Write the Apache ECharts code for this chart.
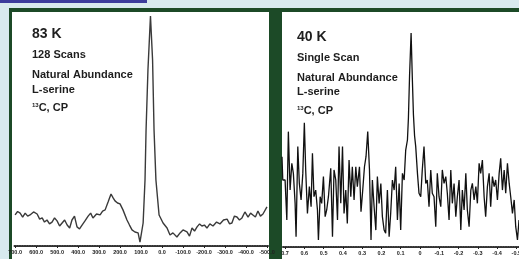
<!DOCTYPE html>
<html>
<head>
<meta charset="utf-8">
<script src="https://cdn.jsdelivr.net/npm/echarts@6/dist/echarts.min.js"></script>
<style>
  html, body { margin: 0; padding: 0; background: #d8eaee; }
  #chart { width: 519px; height: 259px; }
</style>
</head>
<body>
<div id="chart"></div>
<script>
// 83 K, 128 scans (left panel) - shift axis units, intensity normalised to peak = 100
const leftShift = [700, 688, 676, 664, 652, 640, 629, 612, 595, 583, 571, 560, 548, 536, 524, 512, 500, 488, 476, 464,
  452, 440, 429, 417, 405, 393, 381, 367, 352, 340, 329, 312, 295, 283, 271, 257, 243, 233, 224, 212,
  200, 186, 167, 155, 143, 129, 114, 105, 90, 81, 76, 67, 55, 45, 38, 29, 14, -5, -24, -38,
  -52, -71, -86, -100, -119, -131, -143, -155, -167, -179, -190, -202, -214, -228, -243, -260, -276, -293, -310, -322,
  -333, -345, -357, -369, -381, -395, -410, -422, -433, -445, -457, -469, -481, -500]
const leftIntensity = [13.5, 15.0, 14.3, 12.6, 14.3, 13.0, 13.5, 14.8, 13.9, 11.7, 12.2, 10.4, 11.3, 9.6, 10.4, 12.2, 10.9, 8.7, 10.0, 11.3,
  9.1, 7.8, 11.3, 13.0, 8.3, 7.4, 9.1, 10.9, 13.0, 14.3, 12.2, 13.9, 13.5, 15.2, 15.7, 19.1, 22.6, 20.9, 19.6, 18.7,
  18.3, 15.7, 11.3, 9.1, 7.0, 6.1, 5.7, 1.7, 10.0, 28.7, 50.4, 76.5, 100, 80.9, 50.4, 28.7, 13.5, 10.0, 7.8, 4.8,
  5.7, 3.9, 5.7, 7.0, 6.1, 4.3, 7.8, 6.5, 8.3, 9.6, 8.7, 9.1, 7.8, 9.6, 8.7, 10.4, 9.6, 11.3, 11.7, 9.6,
  10.0, 13.0, 12.6, 11.3, 12.2, 14.8, 12.6, 14.3, 13.5, 12.6, 15.2, 13.0, 13.9, 17.0]
const leftTicks = [700, 600, 500, 400, 300, 200, 100, 0, -100, -200, -300, -400, -500]

// 40 K, single scan (right panel)
const rightShift = [0.716, 0.712, 0.700, 0.691, 0.683, 0.674, 0.665, 0.657, 0.648, 0.643, 0.634, 0.626, 0.617, 0.608, 0.600, 0.593, 0.584, 0.574, 0.565, 0.558,
  0.550, 0.541, 0.532, 0.527, 0.518, 0.510, 0.501, 0.492, 0.484, 0.475, 0.463, 0.454, 0.446, 0.437, 0.428, 0.420, 0.411, 0.402, 0.394, 0.385,
  0.377, 0.368, 0.359, 0.351, 0.342, 0.333, 0.325, 0.314, 0.306, 0.297, 0.288, 0.280, 0.271, 0.262, 0.254, 0.247, 0.238, 0.229, 0.221, 0.212,
  0.203, 0.195, 0.186, 0.178, 0.169, 0.160, 0.152, 0.143, 0.134, 0.126, 0.117, 0.108, 0.100, 0.091, 0.082, 0.074, 0.065, 0.060, 0.054, 0.046,
  0.040, 0.034, 0.028, 0.022, 0.013, 0.005, -0.004, -0.012, -0.021, -0.030, -0.038, -0.047, -0.056, -0.064, -0.073, -0.082, -0.090, -0.099, -0.108, -0.116,
  -0.125, -0.134, -0.142, -0.151, -0.160, -0.168, -0.177, -0.186, -0.194, -0.203, -0.212, -0.220, -0.229, -0.238, -0.246, -0.255, -0.264, -0.272, -0.281, -0.290,
  -0.298, -0.307, -0.315, -0.324, -0.333, -0.341, -0.350, -0.359, -0.367, -0.376, -0.385, -0.393, -0.402, -0.411, -0.419, -0.428, -0.437, -0.445, -0.454, -0.463,
  -0.471, -0.480, -0.489, -0.497, -0.506, -0.514]
const rightIntensity = [42.2, 31.3, 31.3, 12.6, 53.9, 26.6, 39.1, 34.4, 20.4, 4.8, 46.9, 29.7, 22.0, 34.4, 58.0, 36.0, 15.7, 28.2, 18.8, 43.8,
  23.5, 26.6, 17.3, 3.3, 23.5, 20.4, 32.9, 14.2, 17.3, 23.5, 36.8, 4.8, 36.0, 31.3, 12.6, 46.9, 20.4, 46.9, 15.7, 26.6,
  11.0, 40.6, 23.5, 37.5, 22.0, 37.5, 28.2, 37.5, 16.5, 26.6, 37.5, 42.2, 53.9, 36.0, 3.3, 31.3, 18.8, 7.9, 32.9, 20.4,
  29.7, 14.2, 7.9, 6.4, 26.6, 4.8, 15.7, 31.3, 26.6, 37.5, 12.6, 29.7, 7.9, 34.4, 31.3, 45.3, 50.0, 60.0, 80.0, 100,
  80.0, 62.0, 52.0, 46.9, 34.4, 25.1, 23.5, 36.0, 46.9, 29.7, 31.3, 18.8, 36.0, 25.1, 23.5, 9.5, 34.4, 23.5, 18.8, 36.0,
  29.7, 32.9, 25.1, 12.6, 36.0, 20.4, 29.7, 14.2, 23.5, 31.3, 7.9, 26.6, 17.3, 34.4, 17.3, 9.5, 26.6, 29.7, 22.0, 28.2,
  20.4, 39.1, 34.4, 40.6, 23.5, 14.2, 28.2, 34.4, 18.8, 32.9, 28.2, 31.3, 22.0, 34.4, 41.4, 26.6, 36.0, 25.1, 39.1, 29.7,
  23.5, 15.7, 22.0, 9.5, 3.3, 12.6]
const rightTicks = [0.7, 0.6, 0.5, 0.4, 0.3, 0.2, 0.1, 0, -0.1, -0.2, -0.3, -0.4, -0.5]

const leftTitle = ['83 K', '128 Scans', 'Natural Abundance', 'L-serine']
const rightTitle = ['40 K', 'Single Scan', 'Natural Abundance', 'L-serine']

const chart = echarts.init(document.getElementById('chart'), null, { renderer: 'canvas' })

const zip = (xs, ys) => xs.map((x, i) => [x, ys[i]])

const textFont = '"Liberation Sans", Arial, sans-serif'
const green = '#1c4a27'

function panelText(x, ys, lines) {
  const out = lines.map((s, i) => ({
    type: 'text',
    left: x,
    top: ys[i] - (i === 0 ? 8 : 6),
    style: {
      text: s,
      fill: '#1e1e1e',
      font: (i === 0 ? 'bold 14px ' : 'bold 11px ') + textFont,
    },
  }))
  out.push({
    type: 'text',
    left: x,
    top: ys[4] - 6,
    style: {
      text: '{sup|13}{t|C, CP}',
      rich: {
        sup: { fontSize: 6, fontWeight: 'bold', fontFamily: textFont, fill: '#1e1e1e', verticalAlign: 'top', padding: [0, 0, 5, 0] },
        t: { fontSize: 11, fontWeight: 'bold', fontFamily: textFont, fill: '#1e1e1e' },
      },
    },
  })
  return out
}

function xAxisOf(gridIndex, min, max, ticks, fmt) {
  return {
    type: 'value',
    gridIndex: gridIndex,
    min: min,
    max: max,
    inverse: true,
    splitLine: { show: false },
    axisLine: { show: true, onZero: false, lineStyle: { color: '#333', width: 2, type: [1, 1.5] } },
    axisTick: { show: true, customValues: ticks, length: 2, inside: false, lineStyle: { color: '#222', width: 1 } },
    axisLabel: {
      customValues: ticks,
      formatter: fmt,
      fontSize: 5.5,
      fontWeight: 'bold',
      color: '#222',
      margin: 3,
      fontFamily: textFont,
      hideOverlap: false,
    },
  }
}

const option = {
  animation: false,
  backgroundColor: '#d8eaee',
  graphic: [
    { type: 'rect', shape: { x: 0, y: 0, width: 147, height: 3 }, style: { fill: '#3c3c9c' }, z: -10 },
    { type: 'rect', shape: { x: 9, y: 8, width: 510, height: 251 }, style: { fill: green }, z: -10 },
    { type: 'rect', shape: { x: 12, y: 12, width: 257, height: 247 }, style: { fill: '#ffffff' }, z: -9 },
    { type: 'rect', shape: { x: 282, y: 12, width: 237, height: 247 }, style: { fill: '#ffffff' }, z: -9 },
    ...panelText(32, [35, 55, 75, 90, 108], leftTitle),
    ...panelText(297, [38, 58, 78, 92, 111], rightTitle),
  ],
  grid: [
    { left: 13, width: 255, top: 12, bottom: 13, outerBoundsMode: 'none', containLabel: false },
    { left: 282, width: 237, top: 12, bottom: 12, outerBoundsMode: 'none', containLabel: false },
  ],
  xAxis: [
    xAxisOf(0, -505, 710, leftTicks, v => v.toFixed(1)),
    xAxisOf(1, -0.514, 0.716, rightTicks, v => (Math.abs(v) < 1e-9 ? '0' : v.toFixed(1))),
  ],
  yAxis: [
    { type: 'value', gridIndex: 0, min: 0, max: 101.7, show: false },
    { type: 'value', gridIndex: 1, min: 0, max: 109.8, show: false },
  ],
  series: [
    {
      type: 'line',
      xAxisIndex: 0,
      yAxisIndex: 0,
      data: zip(leftShift, leftIntensity),
      showSymbol: false,
      lineStyle: { color: '#3a3a3a', width: 1.4 },
    },
    {
      type: 'line',
      xAxisIndex: 1,
      yAxisIndex: 1,
      data: zip(rightShift, rightIntensity),
      showSymbol: false,
      lineStyle: { color: '#111', width: 1.3 },
    },
  ],
}

option && chart.setOption(option)
</script>
</body>
</html>
